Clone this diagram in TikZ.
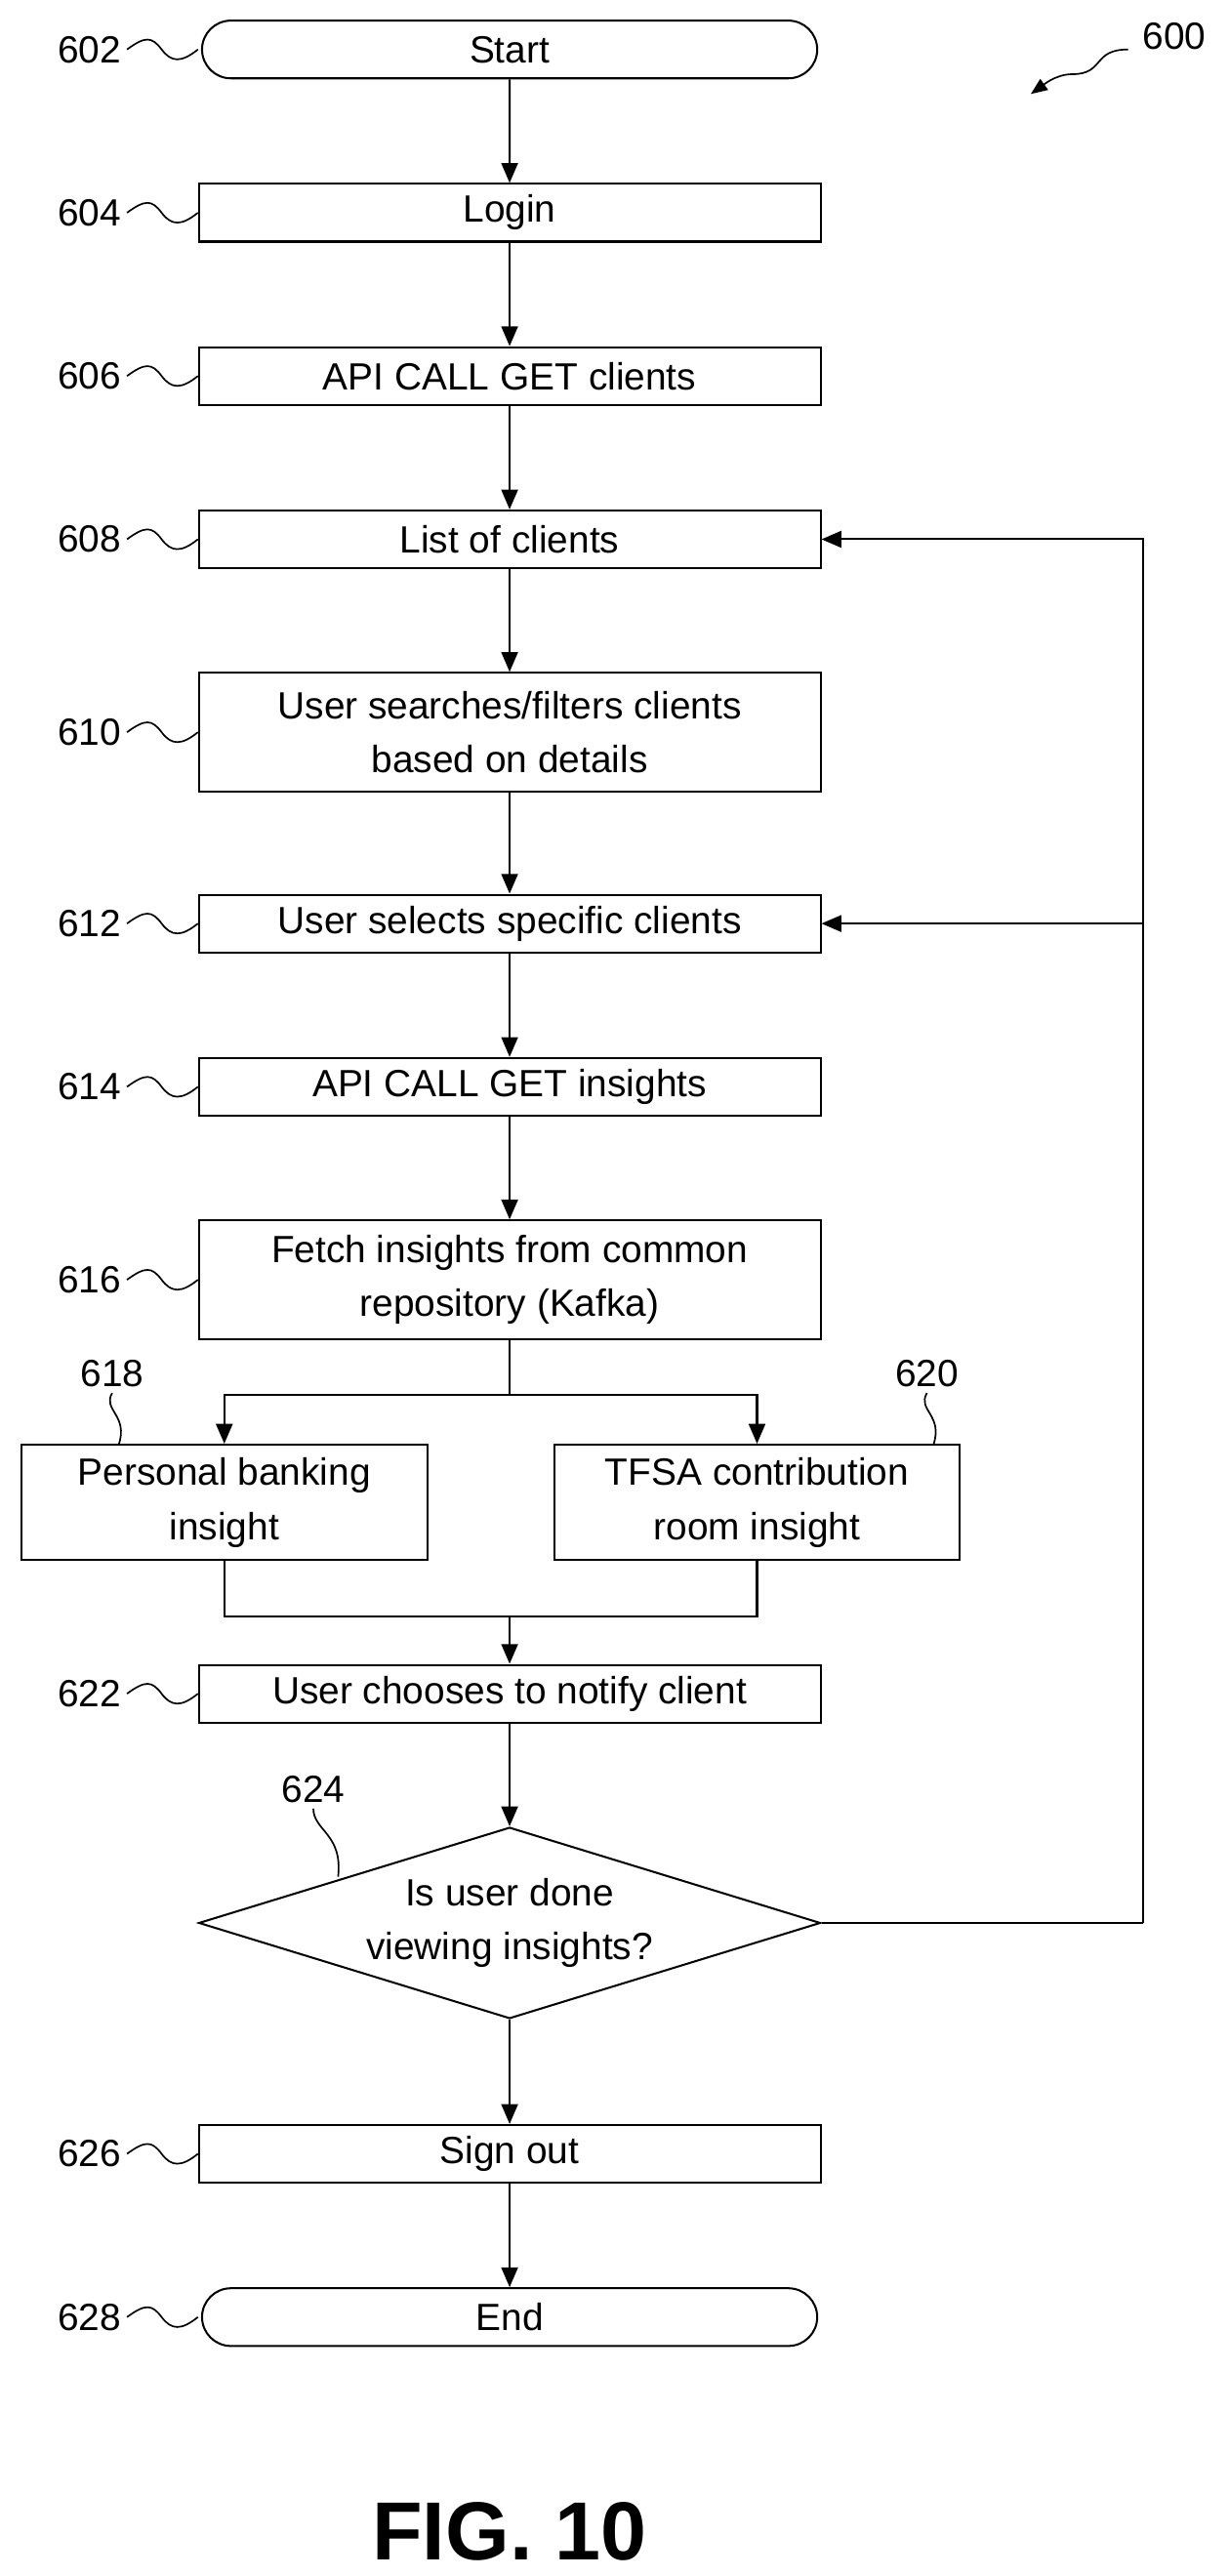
\documentclass[tikz,border=0pt]{standalone}
\usepackage{fontspec}
\setmainfont{Liberation Sans}
\usetikzlibrary{shapes.geometric, shapes.misc, arrows.meta, positioning}
\tikzset{
	box/.style={draw, line width=1.2pt, minimum width=377pt, minimum height=35pt, inner sep=2pt, align=center, font=\fontsize{23}{33}\selectfont},
	term/.style={box, rounded rectangle},
	tall/.style={box, minimum height=72pt},
	side/.style={box, minimum width=246pt, minimum height=70pt},
	dec/.style={draw, line width=1.2pt, diamond, aspect=3.25, minimum width=377pt, minimum height=116pt, inner sep=0pt, align=center, font=\fontsize{23}{33}\selectfont},
	flow/.style={line width=1.2pt, -{Triangle[length=12pt,width=10pt]}},
	line/.style={line width=1.2pt},
	ref/.style={font=\fontsize{23}{28}\selectfont},
	tilde/.style={line width=1pt}
}
\begin{document}
\begin{tikzpicture}[x=1pt,y=-1pt]
	\useasboundingbox (0,0) rectangle (745,1562);
	% main column
	\node[term] (start) at (309,30) {Start};
	\node[box] (login) at (309,129) {Login};
	\node[box] (getc) at (309,228) {API CALL GET clients};
	\node[box] (list) at (309,327) {List of clients};
	\node[tall] (search) at (309,444) {User searches/filters clients\\based on details};
	\node[box] (select) at (309,560) {User selects specific clients};
	\node[box] (geti) at (309,659) {API CALL GET insights};
	\node[tall] (fetch) at (309,776) {Fetch insights from common\\repository (Kafka)};
	\node[side] (bank) at (136,911) {Personal banking\\insight};
	\node[side] (tfsa) at (459,911) {TFSA contribution\\room insight};
	\node[box] (notify) at (309,1027) {User chooses to notify client};
	\node[dec] (done) at (309,1166) {Is user done\\viewing insights?};
	\node[box] (out) at (309,1306) {Sign out};
	\node[term] (end) at (309,1405) {End};
	\coordinate (split) at (309,846);
	\coordinate (merge) at (309,980);
	\coordinate (back) at (693,1166);

	\draw[flow] (start) -- (login);
	\draw[flow] (login) -- (getc);
	\draw[flow] (getc) -- (list);
	\draw[flow] (list) -- (search);
	\draw[flow] (search) -- (select);
	\draw[flow] (select) -- (geti);
	\draw[flow] (geti) -- (fetch);
	\draw[line] (fetch) -- (split);
	\draw[flow] (split) -| (bank);
	\draw[flow] (split) -| (tfsa);
	\draw[line] (bank) |- (merge) -| (tfsa);
	\draw[flow] (merge) -- (notify);
	\draw[flow] (notify) -- (done);
	\draw[flow] (done) -- (out);
	\draw[flow] (out) -- (end);
	\draw[line] (done) -- (back);
	\draw[flow] (back) |- (list);
	\draw[flow] (back |- select) -- (select);

	% reference numerals
	\foreach \n/\y in {602/30, 604/129, 606/228, 608/327, 610/444, 612/560, 614/659, 616/776, 622/1027, 626/1306, 628/1405}{
		\node[ref, anchor=east] (r\n) at (77,\y) {\n};
		\draw[tilde] (r\n.east) .. controls (88,\y-8) and (92,\y-8) .. (98,\y) .. controls (104,\y+8) and (110,\y+8) .. (120,\y);
	}
	\node[ref] (r618) at (68,833) {618};
	\draw[tilde] (r618.south) .. controls (62,855) and (78,858) .. (72,876);
	\node[ref] (r620) at (562,833) {620};
	\draw[tilde] (r620.south) .. controls (556,855) and (572,858) .. (566,876);
	\node[ref] (r624) at (190,1085) {624};
	\draw[tilde] (r624.south) .. controls (190,1110) and (208,1112) .. (205,1138);
	\node[ref] (r600) at (712,22) {600};
	\draw[tilde, -{Triangle[length=10pt,width=8pt]}] (684,30) .. controls (662,30) and (670,45) .. (650,45) .. controls (640,45) and (632,52) .. (625,57);
	\node[font=\bfseries\fontsize{50}{60}\selectfont] (fig) at (309,1535) {FIG. 10};
\end{tikzpicture}
\end{document}
